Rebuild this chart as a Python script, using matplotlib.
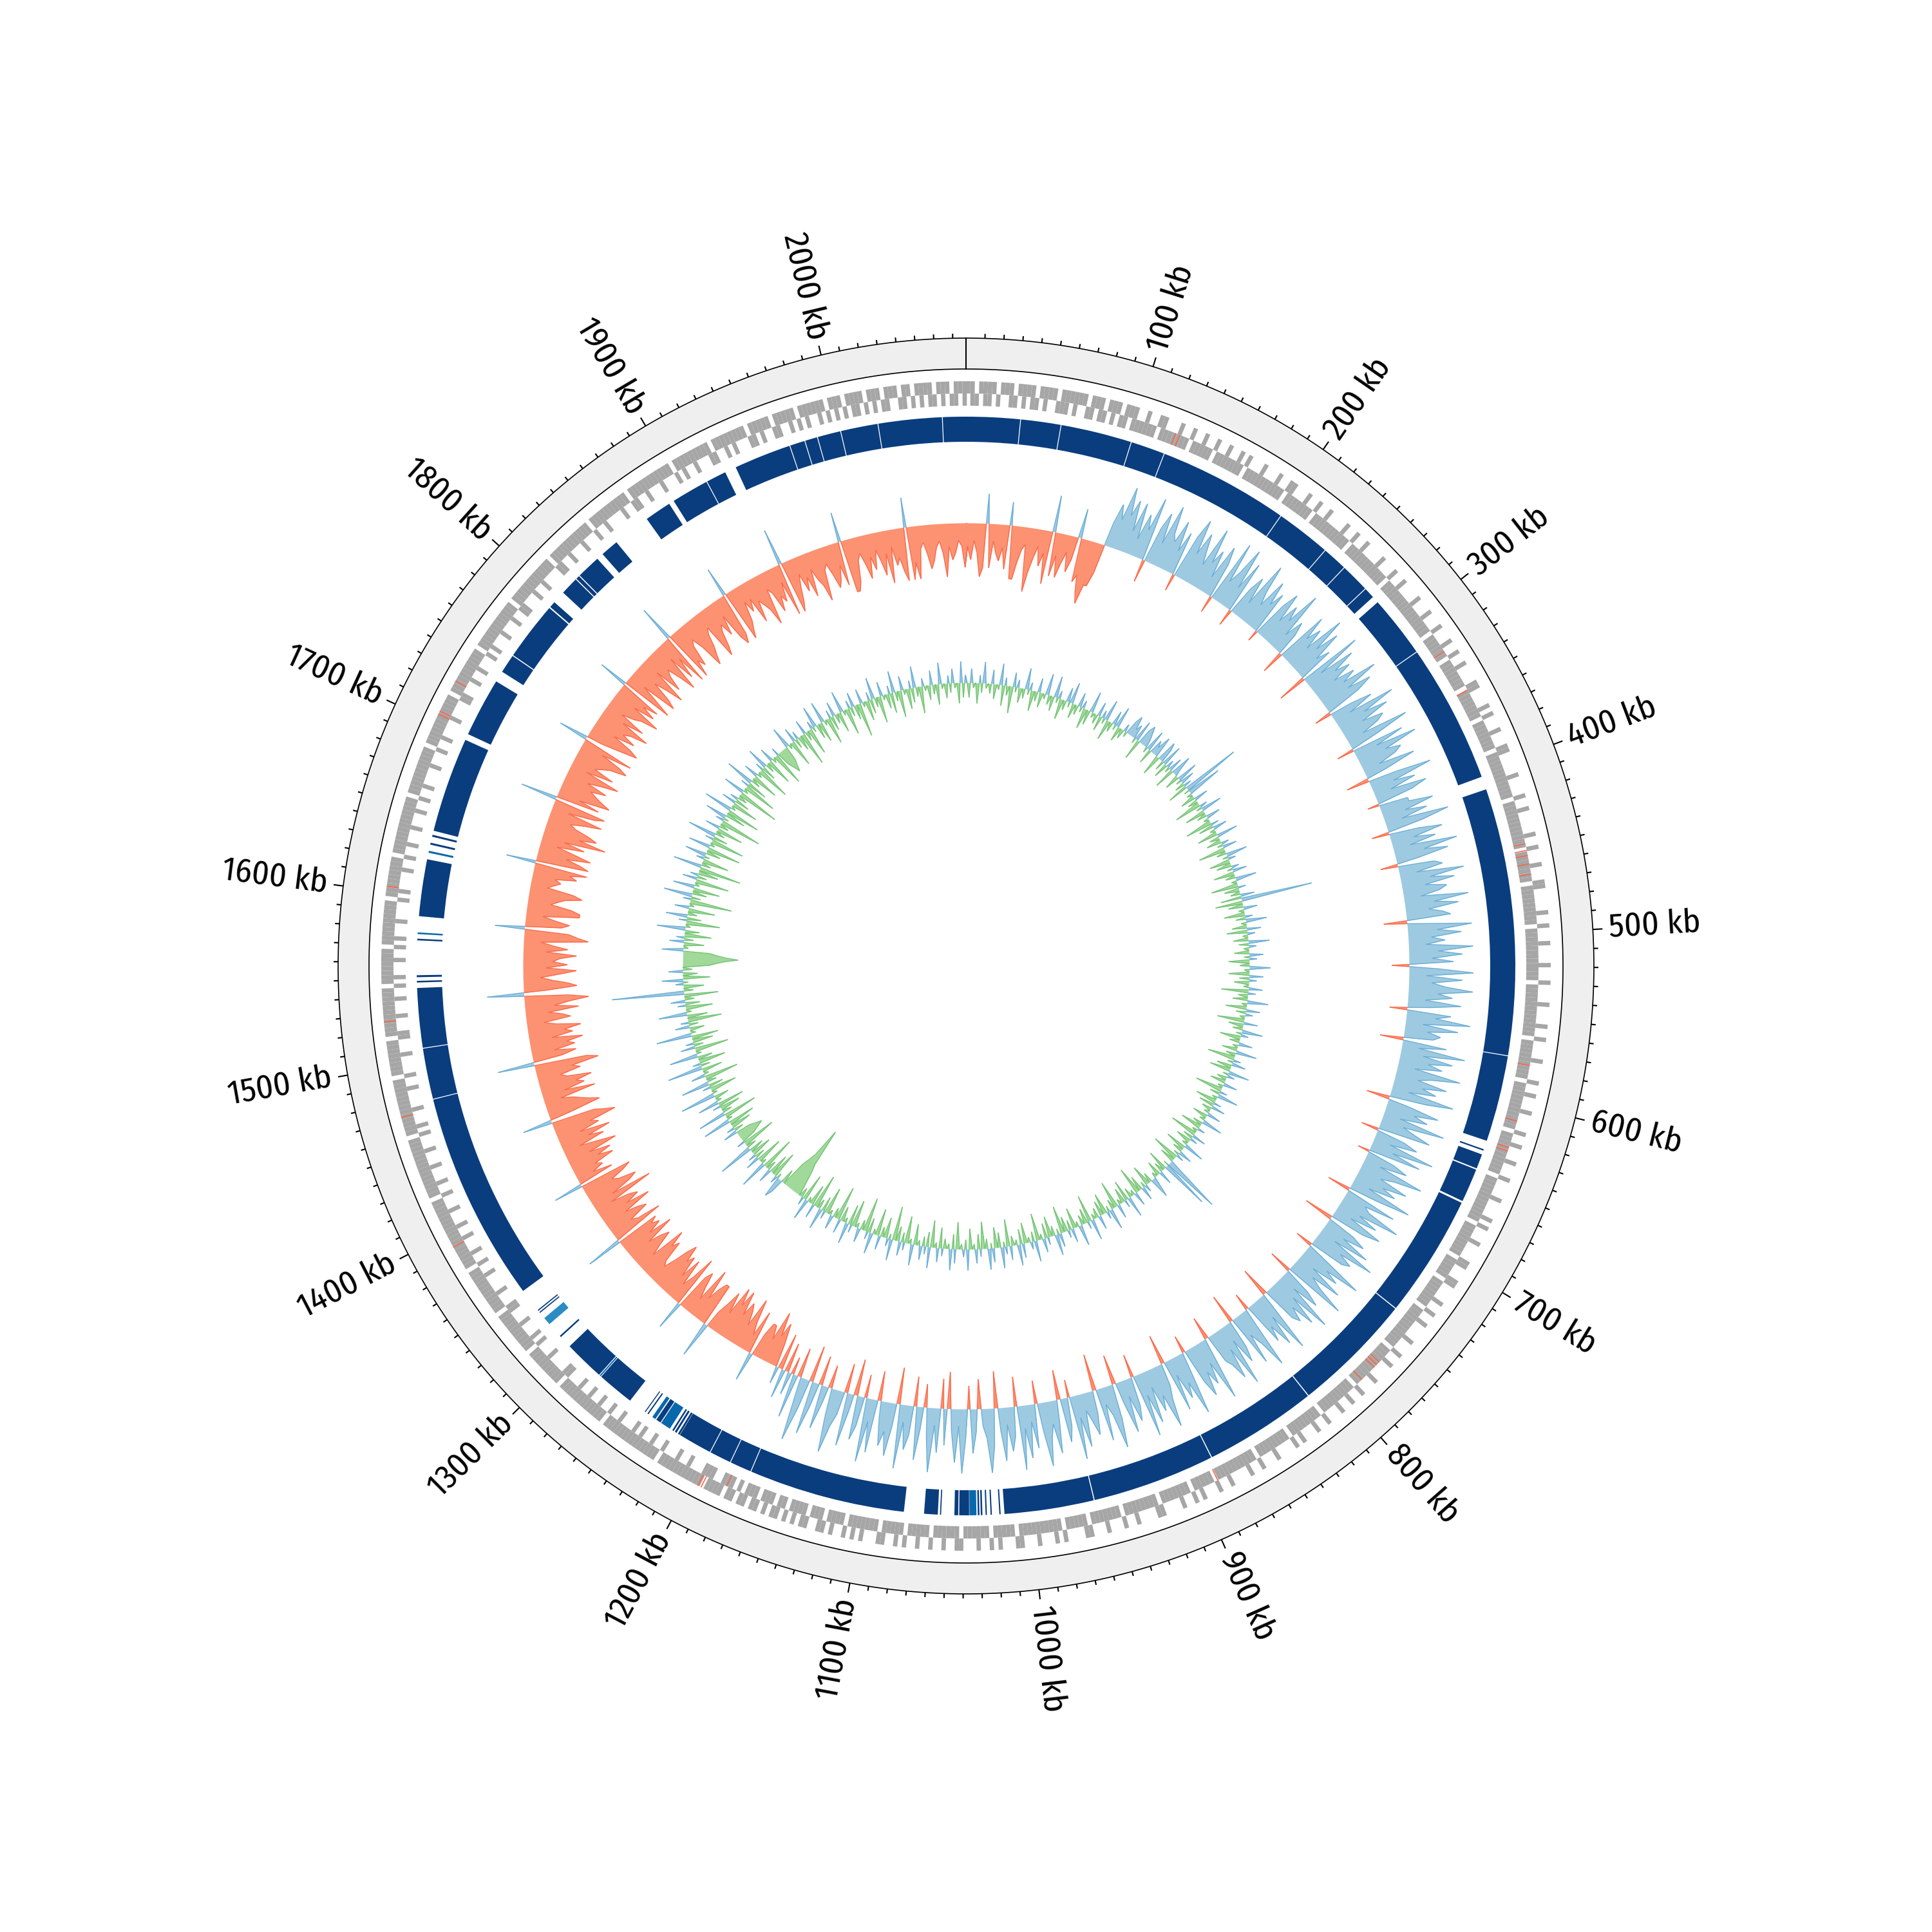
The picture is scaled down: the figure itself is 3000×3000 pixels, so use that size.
import numpy as np
import matplotlib.pyplot as plt
from matplotlib.collections import LineCollection

plt.rcParams["font.family"] = ["Fira Sans Condensed", "DejaVu Sans"]

GENOME_KB = 2077.0
WIN_KB = 2.5  # window / cell size of the per-window tracks, one row = 100 kb

# GC skew per window: digits 1-9 = positive level, letters a-i = negative level
GC_SKEW_ROWS = [
    "dfcehg5gce fdg4hhfdci gecfdh6gdg ecfd5gfhig",
    "ge47596848 3759d68496 5847c79586 4957386c94",
    "6948c57396 4857b68475 9364d85749 5846e93857",
    "4759586c47 3958476395 c849576384 d5947386b5",
    "5847396c58 4739584c67 3958476395 8467d39584",
    "6395847c59 3846957384 c75938465d 7394857396",
    "4857396d48 5739468c57 3948b57396 4857395d84",
    "5947386e57 4839576c49 5738469d57 3948576e39",
    "4857c39648 e57394865d 3947586c49 5738e46957",
    "3849d57384 e69538f475 3849c57e38 4695d73849",
    "e57384f695 3e47d59384 f6e7395d48 e5739f4857",
    "3e849d57f3 8e4695d37e 48f593e7c4 e5f3dgehdf",
    "fd5gcehdfg ehfhdgec6g gfdhcegf5h ecgdgfhgec",
    "dgfhcegfdh egfg6hedgf dhegfcidgh fegh5fcedg",
    "egdhfcgehd gfihg5dhgf echdgfhedg fih6egdgfh",
    "dgfhecgfdh egig6dhgec fhdgefhdge cihg5fgech",
    "hgdefhgcde dgfh5hgehf cgdifhgedf hcgh6gdhgf",
    "egdfhcgdef hgdh5cfhgd gefhdgcefh dgeg5hfchg",
    "dfhcgedfhc gdh6hfgdce hgfdchgedf cghg5hgfce",
    "cgdefhcdge fch6hgecfd gcefhdcegf dg5hhgdceg",
    "dfcegdhcfe gh5hfhdceg fdcehdfecd g",
]
SKEW_LEVELS = [0, 0.09, 0.18, 0.27, 0.36, 0.46, 0.57, 0.69, 0.83, 1.0]

# GC content deviation per window, same coding
GC_CONTENT_ROWS = [
    "0c2a0d1b3a 0b2c0a3d1b 0e2a1c0b3a 1d0b2c0a3b",
    "0c3a1d0b2a 3c0b2a1d0c 3a0b2c1a3d 0b2a3c0b1a",
    "2312a3d232 1a3c2130d3 2b3c1a2d31 0c3a2b1d8a",
    "5a0c2b0e1a 3d0b2a0e1c 2a0d3b0c1a 2e0b3a1d0c",
    "1a2d0b3a0e 1c0b2d9e0c 2a0d1b3a0c 2d1a0c3b1a",
    "0c2a1d0b3a 0d2b1c0a2e 1b0c3a0d2b 1a0e2c0b3a",
    "1d0b2a0c3b 0e1a2c0d3a 1b0c2a0e1b 3a0d1c2b0a",
    "2c0a3b0d1a 0e2b1c0a3d 0b2a1e0c28 a7d0b2c0a1",
    "3b0d1a2c0e 2a0b3d1c0a 2e0b3a1d0c 2b0a3e1c0b",
    "3a0d2b1c0e 2a3b0d1c2a 0e3b1a0d2c 3a0b2e1a3c",
    "0d2a3b0e1c 2a0d3b1a0e 2c3a0b1d2a 0e3c1b2a0d",
    "3a0e1b2c0f 3a1d0b2e0a 3c1f0b2a0e 1d3a0c2f0b",
    "2a0e1c3b0f 2d0a3e1b0c efhigfe0c2 3a1e0d2b0f",
    "4a0e2b1d0c 5b0f1cdedc 2b1d0e4a0f 4b0d1e3a0c",
    "5a0e1c4b0f 2a0d5b1e0c 4a0f2b1d0e 5a0c2b1f0d",
    "4a0e1c2b0f 9b0d1a3e0c 2b0efghgfe 3a0d2b1e0c",
    "4a0f1c3b0e 2a0g1b4c0e 3a0f2b1d0g 4b0e1a3c0f",
    "3a0f1c4b0e 2b0g1a3d0f 4a0e2c1b0g 3a0f1d4b0e",
    "2a0f1c3b0e 2a0f1cdedc 3a0e2b1c0f 2b0e1a3c0d",
    "3a0e1c2b0d 3a0e1b2c0f 2a0d1c3b0e 2a0c1d3b0e",
    "2a0d1c3b0e 1a0c2b0d3a 0c1b2a0d3c 1",
]
GC_POS_PX = [0, 12, 22, 33, 44, 55, 66, 78, 92, 112]
GC_NEG_PX = [0, 8, 15, 23, 32, 42, 53, 66, 86, 112]

# CDS occupancy per cell: i = inner row, o = outer row, b = both
CDS_ROWS = [
    "obiobboioo biobobiobo oibbobooib obioboibob",
    "iibiiobiii biioiibiio iibiibioii ibiiibiiob",
    "iiibiioiib iiiibiioii biiiibiiio iibiiiibii",
    "ibiiioiiib iioiibiiii obiiiibioi iibiiiobii",
    "iiibiiiioi ibiiiiibii oiiibiiiob iiiiibiioi",
    "iibiiiibii ioiiiibiii ibiioiiiib iiiioiibii",
    "ibiiiioiib iiibiiioii iibiiiibio iiibiiiiob",
    "iiiboiiiib iioiibiiii biiioiibii iibiiioiib",
    "iibiiioiib iiibioiiii biiioiibii iibiioiiib",
    "ioiibiiiio biiiibiioi iibiiiobii iioibiiibi",
    "iiboiiibio iibiiiobii biioiibiio ibiiboiiib",
    "ibioiibiob iiobibioib oibiobiboi obiboobibo",
    "oobooboooi oobooboboo obooiooboo booboooibo",
    "oooboooiob ooobooobio oobooooboo iooboooboo",
    "boooboooio obooobooob oooiobooob oooobooioo",
    "ooboooiboo obooobooio booobooiob ooobooooio",
    "boooobooio obooobooob ooiooboooo boooiooboo",
    "oobooooibo oobooboooi obooobooob ooiboooboo",
    "booooiboob oooboooioo boooobooib oobooobooo",
    "ioboobooob iooboboooi bobooiboob oiobooboio",
    "boiobboiob oibooiboio bobioboibo b",
]

# rRNA / tRNA positions (kb)
RNA_KB = [124, 126.5, 327, 353, 448, 452, 455, 460, 466, 577, 610, 626, 628,
          772, 774, 776, 786, 888, 1181, 1194, 1196, 1392, 1471, 1526, 1603,
          1705, 1707, 1726]

# blue homology ring: start / end (kb) and shade (d dark, m medium, l light)
RING_START = [0, 33.2, 57.8, 101.3, 122.3, 202.0, 235.8, 251.3, 269.3, 280.0,
              318.3, 411.0, 573.8, 631.7, 635.0, 644.8, 666.6, 742.0, 816.4, 885.6,
              960.9, 1017.6, 1022.9, 1025.9, 1028.6, 1030.4, 1032.2, 1036.6, 1043.2, 1053.5,
              1055.5, 1076.0, 1171.8, 1185.3, 1198.9, 1219.8, 1222.0, 1224.0, 1226.7, 1233.5,
              1237.2, 1242.2, 1244.4, 1256.0, 1279.0, 1280.3, 1312.6, 1323.0, 1331.8, 1333.4,
              1348.5, 1477.0, 1508.3, 1547.8, 1551.0, 1573.2, 1577.0, 1587.8, 1626.4, 1631.4,
              1636.3, 1640.0, 1701.8, 1744.6, 1756.6, 1793.2, 1804.8, 1816.4, 1819.2, 1838.0,
              1872.0, 1891.5, 1914.8, 1934.0, 1969.3, 1978.8, 1986.7, 2001.1, 2024.0, 2063.0]
RING_END = [32.7, 57.3, 100.8, 121.8, 201.5, 235.3, 250.8, 268.8, 275.8, 317.8,
            403.0, 573.3, 626.3, 632.6, 644.0, 665.4, 741.4, 815.8, 885.0, 960.3,
            1015.3, 1018.4, 1023.7, 1026.7, 1029.6, 1031.4, 1036.4, 1042.6, 1045.5, 1054.2,
            1063.8, 1171.3, 1184.8, 1198.4, 1219.6, 1221.0, 1223.2, 1225.0, 1233.0, 1236.5,
            1239.4, 1243.0, 1245.0, 1278.6, 1279.8, 1305.0, 1313.6, 1327.8, 1332.5, 1334.1,
            1476.5, 1507.8, 1544.5, 1548.8, 1552.2, 1574.2, 1578.0, 1622.4, 1627.6, 1632.6,
            1637.5, 1698.0, 1737.8, 1756.0, 1792.4, 1797.0, 1815.8, 1818.6, 1833.8, 1849.0,
            1888.3, 1914.3, 1927.0, 1968.8, 1978.3, 1986.2, 2000.6, 2023.5, 2062.5, 2077.0]
RING_SHADE = list("dddddddddd"
                  "dddddddddd"
                  "ddddddmddd"
                  "ddddddddmd"
                  "mdddmddldd"
                  "ddddddmdmd"
                  "dddddddddd"
                  "dddddddddd")
SHADE_COLORS = {"d": "#0a3d7e", "m": "#0868ac", "l": "#2b8cc4"}

TICK_MAJOR_KB = list(range(100, 2001, 100))
TICK_MINOR_STEP_KB = 10


def kb2rad(kb):
    return np.asarray(kb, dtype=float) / GENOME_KB * 2 * np.pi


def decode(rows, pos_table, neg_table):
    s = "".join("".join(r.split()) for r in rows)
    return np.array([pos_table[int(c)] if c.isdigit() else -neg_table[ord(c) - 96]
                     for c in s], float)


def with_crossings(th, v):
    # insert the zero crossing between windows of opposite sign
    xs, ys = [th[0]], [v[0]]
    for i in range(len(v) - 1):
        if v[i] * v[i + 1] < 0:
            f = v[i] / (v[i] - v[i + 1])
            xs.append(th[i] + f * (th[i + 1] - th[i]))
            ys.append(0.0)
        xs.append(th[i + 1])
        ys.append(v[i + 1])
    return np.array(xs), np.array(ys)


def signal_track(ax, values, r0, pos_fill, pos_line, neg_fill, neg_line):
    x = (np.arange(len(values)) + 0.5) * WIN_KB
    x = np.concatenate([[x[-1] - GENOME_KB], x, [x[0] + GENOME_KB]])
    v = np.concatenate([[values[-1]], values, [values[0]]])
    th, v = with_crossings(kb2rad(x), v)
    for part, fc, lc in ((np.clip(v, 0, None), pos_fill, pos_line),
                         (np.clip(v, None, 0), neg_fill, neg_line)):
        r = r0 + part
        ax.fill_between(th, r0, r, color=fc, lw=0, zorder=3)
        segs = [[(th[i], r[i]), (th[i + 1], r[i + 1])]
                for i in range(len(th) - 1) if part[i] != 0 or part[i + 1] != 0]
        ax.add_collection(LineCollection(segs, colors=lc, linewidths=0.35, zorder=4),
                          autolim=False)


fig = plt.figure(figsize=(10, 10), dpi=300)
ax = fig.add_axes([0, 0, 1, 1], projection="polar")
ax.set_theta_zero_location("N")
ax.set_theta_direction(-1)
ax.set_axis_off()

# outer band with ticks
full = np.linspace(0, 2 * np.pi, 3000)
ax.fill_between(full, 927, 975, color="#efefef", lw=0, zorder=1)
ax.plot(full, np.full_like(full, 975), color="black", lw=0.4, zorder=2)
ax.plot(full, np.full_like(full, 927), color="black", lw=0.4, zorder=2)
ax.plot([0, 0], [927, 975], color="black", lw=0.5, zorder=2)

ticks = []
for kb in range(TICK_MINOR_STEP_KB, int(GENOME_KB), TICK_MINOR_STEP_KB):
    t = kb2rad(kb)
    ln = 15 if kb in TICK_MAJOR_KB else 7
    ticks.append([(t, 975), (t, 975 + ln)])
ax.add_collection(LineCollection(ticks, colors="black", linewidths=0.5, zorder=2),
                  autolim=False)

for kb in TICK_MAJOR_KB:
    deg = kb / GENOME_KB * 360
    if deg < 180:
        rot, ha = 90 - deg, "left"
    else:
        rot, ha = 270 - deg, "right"
    ax.text(kb2rad(kb), 1000, f"{kb} kb", rotation=rot, rotation_mode="anchor",
            ha=ha, va="center", fontsize=12.5)

# CDS track
cds = "".join("".join(r.split()) for r in CDS_ROWS)
cell_th = kb2rad((np.arange(len(cds)) + 0.5) * WIN_KB)
cell_w = kb2rad(WIN_KB)
inner = np.array([c in "ib" for c in cds])
outer = np.array([c in "ob" for c in cds])
ax.bar(cell_th[inner], 19, width=cell_w, bottom=870, color="#a6a6a6", lw=0, zorder=2)
ax.bar(cell_th[outer], 19, width=cell_w, bottom=889, color="#a6a6a6", lw=0, zorder=2)
for kb in RNA_KB:
    bottom = 870 if 104 < kb < 1184 else 889
    ax.bar(kb2rad(kb), 19, width=kb2rad(0.6), bottom=bottom, color="tomato",
           lw=0, zorder=3)

# homology ring
for s, e, sh in zip(RING_START, RING_END, RING_SHADE):
    ax.bar(kb2rad((s + e) / 2), 39, width=kb2rad(e - s), bottom=814,
           color=SHADE_COLORS[sh], lw=0, zorder=2)

# GC skew and GC content
signal_track(ax, decode(GC_SKEW_ROWS, SKEW_LEVELS, SKEW_LEVELS) * 100, 688,
             "#9ecae1", "#6baed6", "#fc9272", "#fb6a4a")
signal_track(ax, decode(GC_CONTENT_ROWS, GC_POS_PX, GC_NEG_PX), 440,
             "#9ecae1", "#6baed6", "#a1d99b", "#74c476")

ax.set_ylim(0, 1500)
fig.savefig("out.png", dpi=300)
